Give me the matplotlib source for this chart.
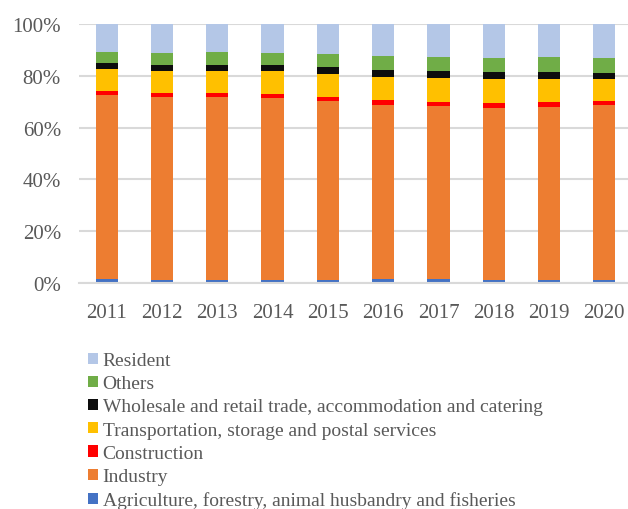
import matplotlib
matplotlib.use("Agg")
import matplotlib.pyplot as plt
from matplotlib.patches import Patch
import numpy as np

years = ["2011", "2012", "2013", "2014", "2015", "2016", "2017", "2018", "2019", "2020"]

# shares in %, bottom to top
agriculture = [1.7, 1.4, 1.4, 1.4, 1.4, 1.7, 1.7, 1.4, 1.4, 1.4]
industry = [70.8, 70.4, 70.4, 70.1, 68.7, 67.1, 66.6, 66.3, 66.5, 67.1]
construction = [1.7, 1.4, 1.5, 1.5, 1.7, 1.7, 1.7, 1.7, 1.8, 1.7]
transport = [8.3, 8.7, 8.3, 8.6, 8.7, 9.1, 9.2, 9.4, 9.1, 8.4]
wholesale = [2.2, 2.3, 2.6, 2.5, 2.7, 2.6, 2.6, 2.6, 2.6, 2.5]
others = [4.5, 4.5, 4.8, 4.6, 5.0, 5.3, 5.4, 5.5, 5.8, 5.7]
resident = [10.8, 11.3, 11.0, 11.3, 11.8, 12.5, 12.8, 13.1, 12.8, 13.2]

series = [
    ("Agriculture, forestry, animal husbandry and fisheries", agriculture, "#4472C4"),
    ("Industry", industry, "#ED7D31"),
    ("Construction", construction, "#FF0000"),
    ("Transportation, storage and postal services", transport, "#FFC000"),
    ("Wholesale and retail trade, accommodation and catering", wholesale, "#0D0D0D"),
    ("Others", others, "#70AD47"),
    ("Resident", resident, "#B4C7E7"),
]

text_color = "#595959"
grid_color = "#D9D9D9"

plt.rcParams["font.family"] = ["Liberation Serif", "DejaVu Serif"]

fig = plt.figure(figsize=(6.28, 5.10), dpi=100)
ax = fig.add_axes([79 / 628, (510 - 284.3) / 510, 553 / 628, 259.6 / 510])

x = np.arange(len(years))
bottom = np.zeros(len(years))
handles = []
for name, vals, color in series:
    vals = np.array(vals)
    ax.bar(x, vals / 100, 0.4, bottom=bottom / 100, color=color, zorder=3)
    bottom += vals
    handles.append(Patch(facecolor=color, label=name))

ax.set_xlim(-0.5, len(years) - 0.5)
ax.set_ylim(0, 1)
ax.set_yticks(np.linspace(0, 1, 6))
ax.set_yticklabels([f"{int(v)}%" for v in np.linspace(0, 100, 6)])
ax.set_xticks(x)
ax.set_xticklabels(years)
ax.tick_params(axis="both", length=0, labelsize=15, colors=text_color)
ax.tick_params(axis="y", pad=13)
ax.tick_params(axis="x", pad=14)

ax.grid(axis="y", color=grid_color, linewidth=1.5, zorder=0)
for side in ["top", "right", "left"]:
    ax.spines[side].set_visible(False)
ax.spines["bottom"].set_color(grid_color)
ax.spines["bottom"].set_linewidth(1.5)
ax.spines["bottom"].set_zorder(4)

leg = fig.legend(handles[::-1], [h.get_label() for h in handles[::-1]],
                 loc="upper left", bbox_to_anchor=(88 / 628, 1 - 353 / 510),
                 frameon=False, fontsize=14, borderpad=0, borderaxespad=0,
                 labelspacing=0.32, handlelength=0.5, handleheight=0.5,
                 handletextpad=0.25)
for t in leg.get_texts():
    t.set_color(text_color)

fig.savefig("out.png", dpi=100)
